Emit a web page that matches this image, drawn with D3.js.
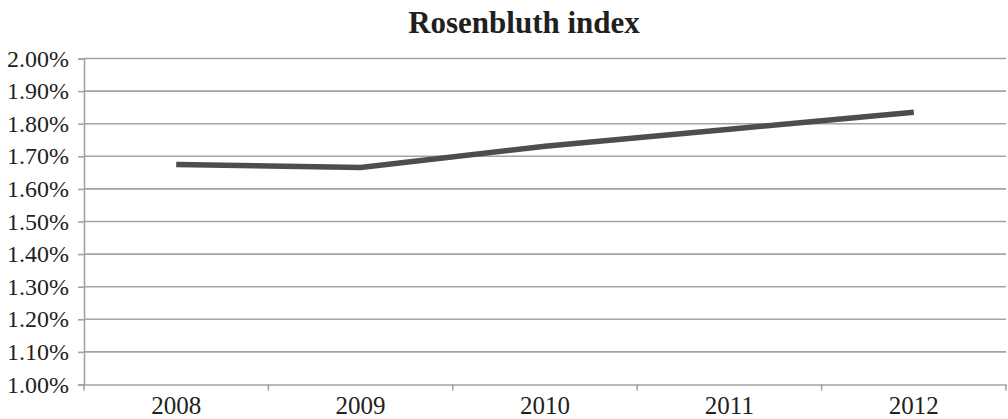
<!DOCTYPE html>
<html><head><meta charset="utf-8">
<script src="https://cdn.jsdelivr.net/npm/d3@7"></script>
<style>body{margin:0;background:#fff}svg{display:block}</style>
</head><body><svg id="c" width="1008" height="419"></svg>
<script>
const categories = ["2008","2009","2010","2011","2012"];
const values = [1.675, 1.666, 1.731, 1.783, 1.835];
const yTicks = [1.0,1.1,1.2,1.3,1.4,1.5,1.6,1.7,1.8,1.9,2.0];
const title = "Rosenbluth index";

const svg = d3.select("#c");
const m = {l:84, r:1006, t:58.5, b:384.5};
const x = d3.scaleBand().domain(categories).range([m.l, m.r]);
const y = d3.scaleLinear().domain([1.0, 2.0]).range([m.b, m.t]);
const font = "'Liberation Serif', 'DejaVu Serif', serif";

svg.append("text").attr("x", 524).attr("y", 33).attr("text-anchor","middle")
  .attr("font-family", font).attr("font-weight","bold").attr("font-size", 31)
  .attr("fill","#231f20").text(title);

// gridlines
svg.append("g").selectAll("line").data(yTicks.filter(d=>d>1.0)).join("line")
  .attr("x1", m.l).attr("x2", m.r).attr("y1", d=>y(d)).attr("y2", d=>y(d))
  .attr("stroke","#a3a3a3").attr("stroke-width",1.6);

// y axis
const ya = svg.append("g").attr("transform",`translate(${m.l},0)`)
  .call(d3.axisLeft(y).tickValues(yTicks).tickFormat(d=>d.toFixed(2)+"%").tickSize(6).tickPadding(9));
ya.select(".domain").attr("stroke","#a3a3a3").attr("stroke-width",1.6);
ya.selectAll(".tick line").attr("stroke","#a3a3a3").attr("stroke-width",1.6);
ya.selectAll("text").attr("font-family",font).attr("font-size",24).attr("fill","#231f20");

// x axis
const xa = svg.append("g").attr("transform",`translate(0,${m.b})`)
  .call(d3.axisBottom(x).tickSize(0).tickPadding(12));
xa.select(".domain").attr("stroke","#a3a3a3").attr("stroke-width",1.6);
xa.selectAll("text").attr("font-family",font).attr("font-size",25).attr("fill","#231f20");
// category boundary ticks
const bounds = categories.map(c=>x(c)).concat([x(categories[categories.length-1])+x.bandwidth()]);
svg.append("g").selectAll("line").data(bounds).join("line")
  .attr("x1",d=>d).attr("x2",d=>d).attr("y1",m.b).attr("y2",m.b+6)
  .attr("stroke","#a3a3a3").attr("stroke-width",1.6);

// line
svg.append("path").datum(values)
  .attr("d", d3.line().x((d,i)=>x(categories[i])+x.bandwidth()/2).y(d=>y(d)))
  .attr("fill","none").attr("stroke","#4d4d4f").attr("stroke-width",5.5);
</script></body></html>
